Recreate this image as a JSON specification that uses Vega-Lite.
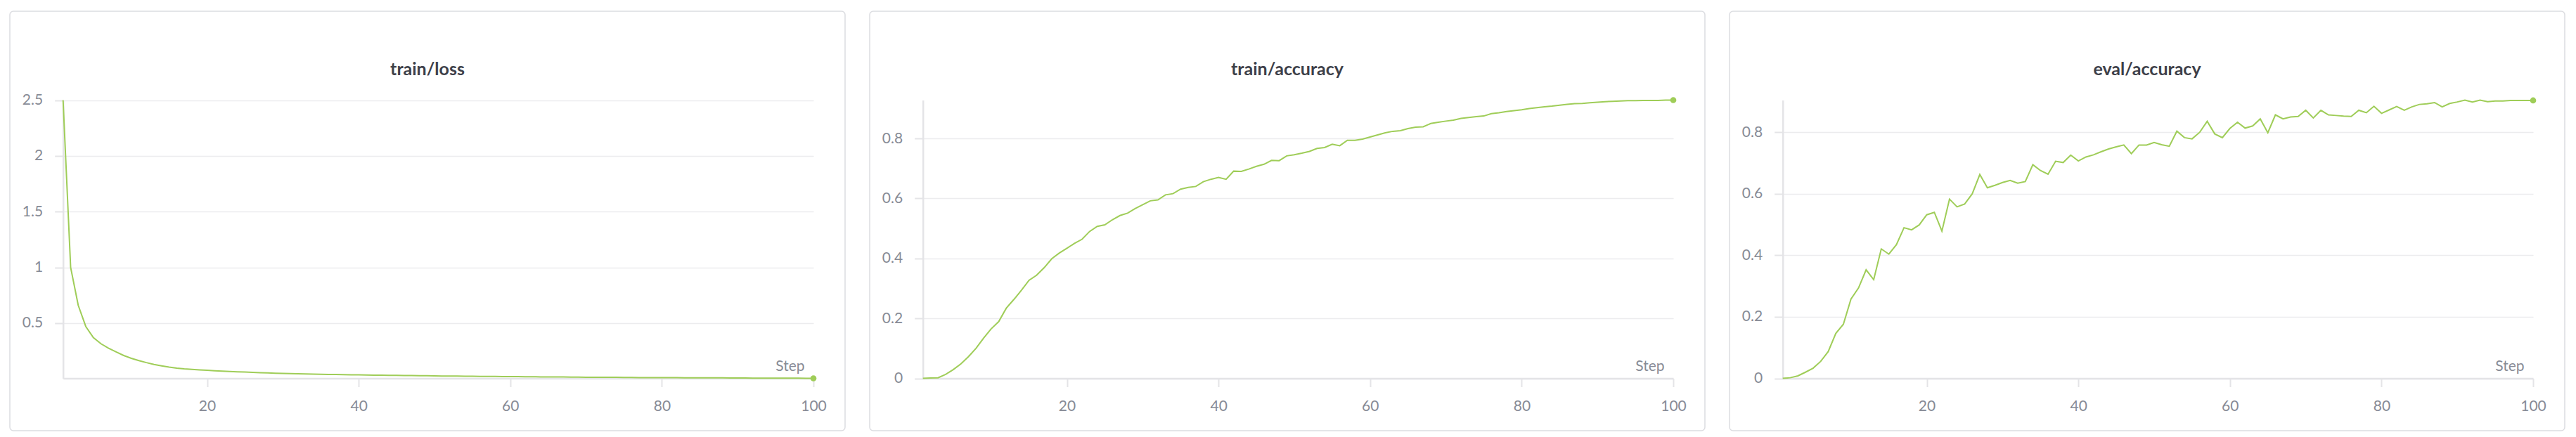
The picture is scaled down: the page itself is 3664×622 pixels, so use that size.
{
  "$schema": "https://vega.github.io/schema/vega-lite/v6.json",
  "background": "white",
  "padding": {"left": 13, "top": 15, "right": 0, "bottom": 0},
  "spacing": 33,
  "data": {"values": [
    {"step":1,"loss":2.5,"train_acc":0,"eval_acc":0},
    {"step":2,"loss":1.0,"train_acc":0.001,"eval_acc":0.002},
    {"step":3,"loss":0.66,"train_acc":0.002,"eval_acc":0.008},
    {"step":4,"loss":0.47,"train_acc":0.013,"eval_acc":0.02},
    {"step":5,"loss":0.37,"train_acc":0.029,"eval_acc":0.033},
    {"step":6,"loss":0.315,"train_acc":0.048,"eval_acc":0.055},
    {"step":7,"loss":0.275,"train_acc":0.072,"eval_acc":0.087},
    {"step":8,"loss":0.242,"train_acc":0.1,"eval_acc":0.146},
    {"step":9,"loss":0.21,"train_acc":0.134,"eval_acc":0.176},
    {"step":10,"loss":0.185,"train_acc":0.165,"eval_acc":0.258},
    {"step":11,"loss":0.164,"train_acc":0.189,"eval_acc":0.294},
    {"step":12,"loss":0.146,"train_acc":0.234,"eval_acc":0.353},
    {"step":13,"loss":0.13,"train_acc":0.263,"eval_acc":0.321},
    {"step":14,"loss":0.117,"train_acc":0.294,"eval_acc":0.421},
    {"step":15,"loss":0.106,"train_acc":0.327,"eval_acc":0.404},
    {"step":16,"loss":0.097,"train_acc":0.344,"eval_acc":0.435},
    {"step":17,"loss":0.09,"train_acc":0.369,"eval_acc":0.49},
    {"step":18,"loss":0.085,"train_acc":0.399,"eval_acc":0.483},
    {"step":19,"loss":0.081,"train_acc":0.418,"eval_acc":0.499},
    {"step":20,"loss":0.077,"train_acc":0.434,"eval_acc":0.532},
    {"step":21,"loss":0.073,"train_acc":0.45,"eval_acc":0.54},
    {"step":22,"loss":0.069,"train_acc":0.464,"eval_acc":0.479},
    {"step":23,"loss":0.066,"train_acc":0.49,"eval_acc":0.583},
    {"step":24,"loss":0.063,"train_acc":0.507,"eval_acc":0.558},
    {"step":25,"loss":0.061,"train_acc":0.512,"eval_acc":0.567},
    {"step":26,"loss":0.058,"train_acc":0.529,"eval_acc":0.6},
    {"step":27,"loss":0.056,"train_acc":0.543,"eval_acc":0.663},
    {"step":28,"loss":0.054,"train_acc":0.551,"eval_acc":0.62},
    {"step":29,"loss":0.051,"train_acc":0.566,"eval_acc":0.628},
    {"step":30,"loss":0.049,"train_acc":0.579,"eval_acc":0.637},
    {"step":31,"loss":0.047,"train_acc":0.592,"eval_acc":0.644},
    {"step":32,"loss":0.046,"train_acc":0.595,"eval_acc":0.635},
    {"step":33,"loss":0.044,"train_acc":0.612,"eval_acc":0.64},
    {"step":34,"loss":0.043,"train_acc":0.616,"eval_acc":0.695},
    {"step":35,"loss":0.042,"train_acc":0.631,"eval_acc":0.676},
    {"step":36,"loss":0.04,"train_acc":0.637,"eval_acc":0.664},
    {"step":37,"loss":0.039,"train_acc":0.64,"eval_acc":0.706},
    {"step":38,"loss":0.038,"train_acc":0.656,"eval_acc":0.702},
    {"step":39,"loss":0.037,"train_acc":0.664,"eval_acc":0.726},
    {"step":40,"loss":0.036,"train_acc":0.67,"eval_acc":0.707},
    {"step":41,"loss":0.035,"train_acc":0.664,"eval_acc":0.72},
    {"step":42,"loss":0.034,"train_acc":0.691,"eval_acc":0.727},
    {"step":43,"loss":0.033,"train_acc":0.69,"eval_acc":0.737},
    {"step":44,"loss":0.032,"train_acc":0.698,"eval_acc":0.746},
    {"step":45,"loss":0.031,"train_acc":0.707,"eval_acc":0.753},
    {"step":46,"loss":0.03,"train_acc":0.714,"eval_acc":0.759},
    {"step":47,"loss":0.03,"train_acc":0.727,"eval_acc":0.731},
    {"step":48,"loss":0.029,"train_acc":0.726,"eval_acc":0.759},
    {"step":49,"loss":0.028,"train_acc":0.742,"eval_acc":0.759},
    {"step":50,"loss":0.027,"train_acc":0.746,"eval_acc":0.767},
    {"step":51,"loss":0.026,"train_acc":0.751,"eval_acc":0.76},
    {"step":52,"loss":0.026,"train_acc":0.757,"eval_acc":0.755},
    {"step":53,"loss":0.025,"train_acc":0.767,"eval_acc":0.804},
    {"step":54,"loss":0.024,"train_acc":0.77,"eval_acc":0.783},
    {"step":55,"loss":0.024,"train_acc":0.781,"eval_acc":0.779},
    {"step":56,"loss":0.023,"train_acc":0.776,"eval_acc":0.8},
    {"step":57,"loss":0.022,"train_acc":0.794,"eval_acc":0.836},
    {"step":58,"loss":0.022,"train_acc":0.794,"eval_acc":0.795},
    {"step":59,"loss":0.021,"train_acc":0.798,"eval_acc":0.783},
    {"step":60,"loss":0.02,"train_acc":0.805,"eval_acc":0.813},
    {"step":61,"loss":0.02,"train_acc":0.812,"eval_acc":0.833},
    {"step":62,"loss":0.019,"train_acc":0.819,"eval_acc":0.814},
    {"step":63,"loss":0.019,"train_acc":0.824,"eval_acc":0.821},
    {"step":64,"loss":0.018,"train_acc":0.826,"eval_acc":0.844},
    {"step":65,"loss":0.018,"train_acc":0.833,"eval_acc":0.799},
    {"step":66,"loss":0.017,"train_acc":0.838,"eval_acc":0.857},
    {"step":67,"loss":0.017,"train_acc":0.839,"eval_acc":0.844},
    {"step":68,"loss":0.016,"train_acc":0.85,"eval_acc":0.85},
    {"step":69,"loss":0.016,"train_acc":0.854,"eval_acc":0.852},
    {"step":70,"loss":0.015,"train_acc":0.858,"eval_acc":0.872},
    {"step":71,"loss":0.015,"train_acc":0.861,"eval_acc":0.847},
    {"step":72,"loss":0.014,"train_acc":0.867,"eval_acc":0.872},
    {"step":73,"loss":0.014,"train_acc":0.87,"eval_acc":0.857},
    {"step":74,"loss":0.014,"train_acc":0.873,"eval_acc":0.855},
    {"step":75,"loss":0.013,"train_acc":0.875,"eval_acc":0.853},
    {"step":76,"loss":0.013,"train_acc":0.883,"eval_acc":0.852},
    {"step":77,"loss":0.012,"train_acc":0.886,"eval_acc":0.872},
    {"step":78,"loss":0.012,"train_acc":0.89,"eval_acc":0.864},
    {"step":79,"loss":0.012,"train_acc":0.893,"eval_acc":0.885},
    {"step":80,"loss":0.011,"train_acc":0.896,"eval_acc":0.862},
    {"step":81,"loss":0.011,"train_acc":0.9,"eval_acc":0.873},
    {"step":82,"loss":0.011,"train_acc":0.903,"eval_acc":0.884},
    {"step":83,"loss":0.01,"train_acc":0.906,"eval_acc":0.872},
    {"step":84,"loss":0.01,"train_acc":0.908,"eval_acc":0.883},
    {"step":85,"loss":0.01,"train_acc":0.911,"eval_acc":0.891},
    {"step":86,"loss":0.009,"train_acc":0.914,"eval_acc":0.893},
    {"step":87,"loss":0.009,"train_acc":0.916,"eval_acc":0.897},
    {"step":88,"loss":0.009,"train_acc":0.917,"eval_acc":0.883},
    {"step":89,"loss":0.008,"train_acc":0.919,"eval_acc":0.894},
    {"step":90,"loss":0.008,"train_acc":0.921,"eval_acc":0.899},
    {"step":91,"loss":0.008,"train_acc":0.923,"eval_acc":0.905},
    {"step":92,"loss":0.007,"train_acc":0.924,"eval_acc":0.899},
    {"step":93,"loss":0.007,"train_acc":0.925,"eval_acc":0.905},
    {"step":94,"loss":0.007,"train_acc":0.926,"eval_acc":0.9},
    {"step":95,"loss":0.006,"train_acc":0.926,"eval_acc":0.902},
    {"step":96,"loss":0.006,"train_acc":0.927,"eval_acc":0.902},
    {"step":97,"loss":0.006,"train_acc":0.927,"eval_acc":0.904},
    {"step":98,"loss":0.006,"train_acc":0.927,"eval_acc":0.904},
    {"step":99,"loss":0.005,"train_acc":0.928,"eval_acc":0.904},
    {"step":100,"loss":0.005,"train_acc":0.928,"eval_acc":0.904}
  ]},
  "hconcat": [
    {
      "width": 1188, "height": 597,
      "title": {"text": "train/loss", "offset": -96, "anchor": "middle"},
      "encoding": {
        "x": {"field": "step", "type": "quantitative",
              "scale": {"domain": [1, 100], "range": [75.7, 1143], "nice": false, "zero": false},
              "axis": {"values": [20, 40, 60, 80, 100], "grid": false, "offset": -74.5, "labelFlush": false,
                       "title": "Step", "titleX": 1130, "titleY": -11.5, "titleAlign": "right", "titleBaseline": "alphabetic"}},
        "y": {"field": "loss", "type": "quantitative",
              "scale": {"domain": [0.005, 2.5], "range": [522.5, 126.5], "nice": false, "zero": false},
              "axis": {"values": [0.5, 1, 1.5, 2, 2.5], "format": "~g", "grid": true, "offset": -75.7, "title": null}}
      },
      "layer": [
        {"mark": {"type": "line", "color": "#9fcd58", "strokeWidth": 2}},
        {"transform": [{"filter": "datum.step == 100"}],
         "mark": {"type": "point", "filled": true, "color": "#9fcd58", "size": 75, "opacity": 1}}
      ]
    },
    {
      "width": 1188, "height": 597,
      "title": {"text": "train/accuracy", "offset": -96, "anchor": "middle"},
      "encoding": {
        "x": {"field": "step", "type": "quantitative",
              "scale": {"domain": [1, 100], "range": [75.7, 1143], "nice": false, "zero": false},
              "axis": {"values": [20, 40, 60, 80, 100], "grid": false, "offset": -74.5, "labelFlush": false,
                       "title": "Step", "titleX": 1130, "titleY": -11.5, "titleAlign": "right", "titleBaseline": "alphabetic"}},
        "y": {"field": "train_acc", "type": "quantitative",
              "scale": {"domain": [0, 0.928], "range": [522.5, 126.5], "nice": false, "zero": false},
              "axis": {"values": [0, 0.2, 0.4, 0.6, 0.8], "format": "~g", "grid": true, "offset": -75.7, "title": null}}
      },
      "layer": [
        {"mark": {"type": "line", "color": "#9fcd58", "strokeWidth": 2}},
        {"transform": [{"filter": "datum.step == 100"}],
         "mark": {"type": "point", "filled": true, "color": "#9fcd58", "size": 75, "opacity": 1}}
      ]
    },
    {
      "width": 1188, "height": 597,
      "title": {"text": "eval/accuracy", "offset": -96, "anchor": "middle"},
      "encoding": {
        "x": {"field": "step", "type": "quantitative",
              "scale": {"domain": [1, 100], "range": [75.7, 1143], "nice": false, "zero": false},
              "axis": {"values": [20, 40, 60, 80, 100], "grid": false, "offset": -74.5, "labelFlush": false,
                       "title": "Step", "titleX": 1130, "titleY": -11.5, "titleAlign": "right", "titleBaseline": "alphabetic"}},
        "y": {"field": "eval_acc", "type": "quantitative",
              "scale": {"domain": [0, 0.905], "range": [522.5, 126.5], "nice": false, "zero": false},
              "axis": {"values": [0, 0.2, 0.4, 0.6, 0.8], "format": "~g", "grid": true, "offset": -75.7, "title": null}}
      },
      "layer": [
        {"mark": {"type": "line", "color": "#9fcd58", "strokeWidth": 2}},
        {"transform": [{"filter": "datum.step == 100"}],
         "mark": {"type": "point", "filled": true, "color": "#9fcd58", "size": 75, "opacity": 1}}
      ]
    }
  ],
  "config": {
    "view": {"stroke": "#dcdde1", "strokeWidth": 1.5, "cornerRadius": 5, "fill": "white"},
    "axis": {"labelFont": "Lato", "labelFontSize": 21, "labelColor": "#878b96",
             "domainColor": "#e4e4e7", "domainWidth": 2.5, "tickColor": "#e4e4e7", "tickWidth": 2, "tickSize": 12,
             "labelPadding": 17, "gridColor": "#ececee", "gridWidth": 1.5,
             "titleFont": "Lato", "titleFontSize": 21, "titleColor": "#878b96", "titleFontWeight": "normal"},
    "title": {"font": "Lato", "fontSize": 25, "fontWeight": "bold", "color": "#3d4049"}
  }
}
